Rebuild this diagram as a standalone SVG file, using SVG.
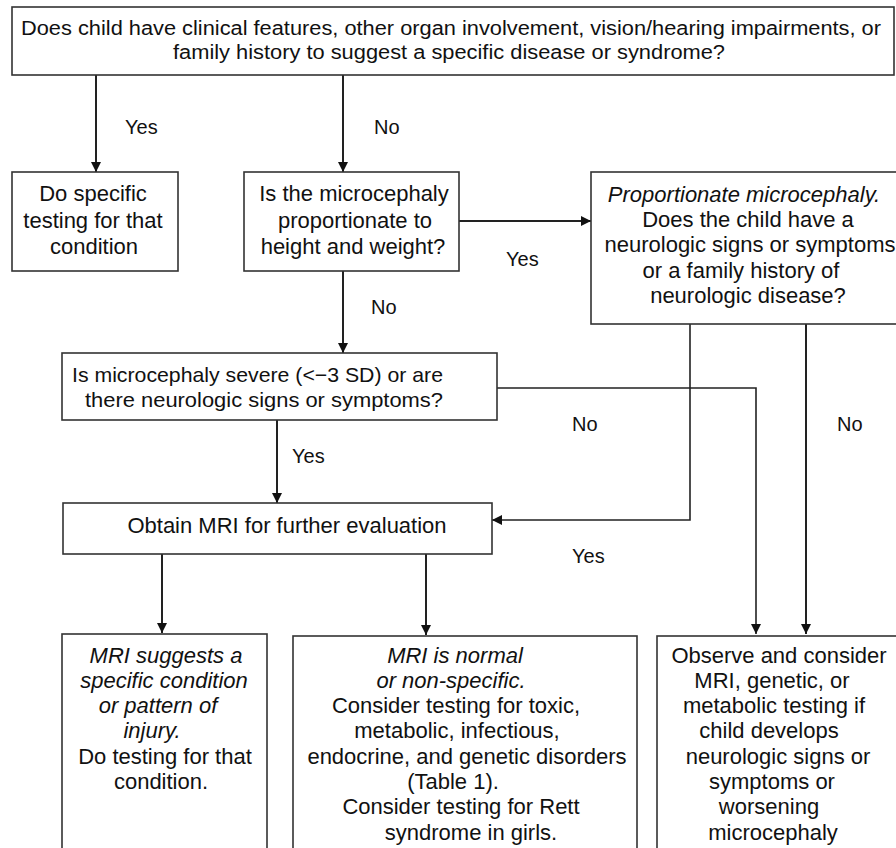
<svg xmlns="http://www.w3.org/2000/svg" width="896" height="848" viewBox="0 0 896 848">
<style>
  text { font-family: "Liberation Sans", Arial, sans-serif; font-size: 22px; fill: #111; }
  .c { text-anchor: middle; }
  .i { font-style: italic; }
  .lbl { font-size: 20px; }
  .box { fill: #fff; stroke: #333; stroke-width: 1.6; }
  .ln { fill: none; stroke: #222; stroke-width: 2; }
  .thin { fill: none; stroke: #222; stroke-width: 1.6; }
</style>
<defs>
  <marker id="ah" viewBox="0 0 10 10" refX="10" refY="5" markerWidth="10" markerHeight="10" markerUnits="userSpaceOnUse" orient="auto">
    <path d="M0,0 L10,5 L0,10 z" fill="#111"/>
  </marker>
</defs>
<rect width="896" height="848" fill="#fff"/>

<g id="connectors">
  <path class="ln" d="M96,75 V172" marker-end="url(#ah)"/>
  <path class="ln" d="M343,75 V172" marker-end="url(#ah)"/>
  <path class="ln" d="M459,221 H591" marker-end="url(#ah)"/>
  <path class="ln" d="M343,271 V353" marker-end="url(#ah)"/>
  <path class="ln" d="M277,420 V503" marker-end="url(#ah)"/>
  <path class="thin" d="M497,388 H756 V634" marker-end="url(#ah)"/>
  <path class="thin" d="M690,324 V520 H492" marker-end="url(#ah)"/>
  <path class="ln" d="M806,324 V634" marker-end="url(#ah)"/>
  <path class="ln" d="M162,554 V633" marker-end="url(#ah)"/>
  <path class="ln" d="M426,554 V635" marker-end="url(#ah)"/>
  <text class="lbl" x="125" y="134">Yes</text>
  <text class="lbl" x="374" y="134">No</text>
  <text class="lbl" x="506" y="266">Yes</text>
  <text class="lbl" x="371" y="314">No</text>
  <text class="lbl" x="292" y="463">Yes</text>
  <text class="lbl" x="572" y="431">No</text>
  <text class="lbl" x="837" y="431">No</text>
  <text class="lbl" x="572" y="563">Yes</text>
</g>

<g id="n-top">
  <rect class="box" x="12" y="7" width="882" height="68"/>
  <text x="21" y="35" style="font-size:20px" textLength="860" lengthAdjust="spacingAndGlyphs">Does child have clinical features, other organ involvement, vision/hearing impairments, or</text>
  <text x="173" y="59" style="font-size:20px" textLength="552" lengthAdjust="spacingAndGlyphs">family history to suggest a specific disease or syndrome?</text>
</g>

<g id="n-specific">
  <rect class="box" x="12" y="172" width="166" height="99"/>
  <text class="c" x="93" y="201">Do specific</text>
  <text class="c" x="93" y="228">testing for that</text>
  <text class="c" x="94" y="254">condition</text>
</g>

<g id="n-proportionate">
  <rect class="box" x="244" y="172" width="215" height="99"/>
  <text class="c" x="354" y="201">Is the microcephaly</text>
  <text class="c" x="355" y="228">proportionate to</text>
  <text class="c" x="353" y="254">height and weight?</text>
</g>

<g id="n-propmicro">
  <rect class="box" x="591" y="172" width="312" height="152"/>
  <text class="c i" x="744" y="202">Proportionate microcephaly.</text>
  <text class="c" x="748" y="227">Does the child have a</text>
  <text class="c" x="750" y="252">neurologic signs or symptoms</text>
  <text class="c" x="741" y="278">or a family history of</text>
  <text class="c" x="748" y="303">neurologic disease?</text>
</g>

<g id="n-severe">
  <rect class="box" x="62" y="353" width="435" height="67"/>
  <text x="72" y="382" style="font-size:21px" textLength="371" lengthAdjust="spacingAndGlyphs">Is microcephaly severe (&lt;−3 SD) or are</text>
  <text x="85" y="407" style="font-size:21px" textLength="358" lengthAdjust="spacingAndGlyphs">there neurologic signs or symptoms?</text>
</g>

<g id="n-mri">
  <rect class="box" x="63" y="503" width="429" height="51"/>
  <text class="c" x="287" y="533">Obtain MRI for further evaluation</text>
</g>

<g id="n-mri-specific">
  <rect class="box" x="62" y="634" width="205" height="230"/>
  <text class="c i" x="166" y="663">MRI suggests a</text>
  <text class="c i" x="164" y="688">specific condition</text>
  <text class="c i" x="158" y="713">or pattern of</text>
  <text class="c i" x="152" y="738">injury.</text>
  <text class="c" x="165" y="764">Do testing for that</text>
  <text class="c" x="161" y="789">condition.</text>
</g>

<g id="n-mri-normal">
  <rect class="box" x="293" y="636" width="344" height="230"/>
  <text class="c i" x="455" y="663">MRI is normal</text>
  <text class="c i" x="451" y="688">or non-specific.</text>
  <text class="c" x="456" y="713">Consider testing for toxic,</text>
  <text class="c" x="457" y="738">metabolic, infectious,</text>
  <text class="c" x="467" y="764">endocrine, and genetic disorders</text>
  <text class="c" x="453" y="789">(Table 1).</text>
  <text class="c" x="461" y="814">Consider testing for Rett</text>
  <text class="c" x="471" y="840">syndrome in girls.</text>
</g>

<g id="n-observe">
  <rect class="box" x="657" y="636" width="246" height="230"/>
  <text class="c" x="779" y="663">Observe and consider</text>
  <text class="c" x="772" y="688">MRI, genetic, or</text>
  <text class="c" x="774" y="713">metabolic testing if</text>
  <text class="c" x="769" y="738">child develops</text>
  <text class="c" x="778" y="764">neurologic signs or</text>
  <text class="c" x="772" y="789">symptoms or</text>
  <text class="c" x="769" y="814">worsening</text>
  <text class="c" x="773" y="840">microcephaly</text>
</g>
</svg>
